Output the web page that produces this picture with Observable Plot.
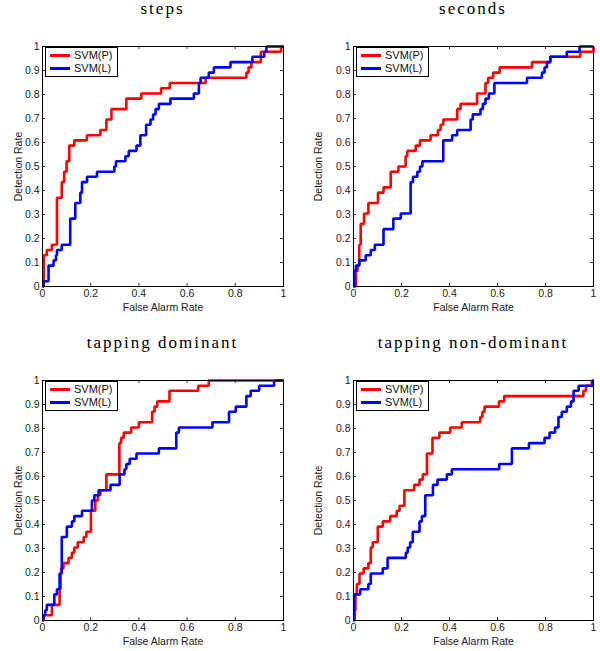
<!DOCTYPE html>
<html>
<head>
<meta charset="utf-8">
<script src="https://cdn.jsdelivr.net/npm/d3@7"></script>
<script src="https://cdn.jsdelivr.net/npm/@observablehq/plot@0.6"></script>
<style>
  html, body { margin: 0; padding: 0; background: #fff; }
  #root { position: relative; width: 600px; height: 651px; overflow: hidden; }
  .panel { position: absolute; }
  .title { position: absolute; width: 300px; text-align: center; font-family: "Liberation Serif", "DejaVu Serif", serif; font-size: 17px; letter-spacing: 2px; color: #000; }
  .legend { position: absolute; border: 1px solid #000; background: #fff; font-family: "Liberation Sans", Arial, sans-serif; font-size: 11px; padding: 1px 4px 1px 4px; line-height: 13px; color: #111; }
  .legend .row { display: flex; align-items: center; white-space: nowrap; }
  .legend .sw { display: inline-block; width: 20px; height: 3px; margin-right: 4px; }
</style>
</head>
<body>
<div id="root"></div>
<script>
// ---- Data ----
const panelTitles = ["steps", "seconds", "tapping dominant", "tapping non-dominant"];
const seriesNames = ["SVM(P)", "SVM(L)"];
const seriesColors = ["#ff0000", "#0000ff"];
const xTicks = [0, 0.2, 0.4, 0.6, 0.8, 1];
const xTickLabels = ["0", "0.2", "0.4", "0.6", "0.8", "1"];
const yTicks = [0, 0.1, 0.2, 0.3, 0.4, 0.5, 0.6, 0.7, 0.8, 0.9, 1];
const yTickLabels = ["0", "0.1", "0.2", "0.3", "0.4", "0.5", "0.6", "0.7", "0.8", "0.9", "1"];
const xLabel = "False Alarm Rate";
const yLabel = "Detection Rate";

// [false alarm rate, detection rate] after each jump
const stepsP = [[0,0],[0.005,0.13],[0.018,0.152],[0.039,0.174],[0.06,0.37],[0.08,0.435],[0.09,0.478],[0.1,0.522],[0.111,0.587],[0.132,0.609],[0.184,0.63],[0.24,0.652],[0.265,0.696],[0.286,0.739],[0.348,0.783],[0.41,0.804],[0.492,0.826],[0.528,0.848],[0.677,0.87],[0.846,0.891],[0.855,0.913],[0.867,0.935],[0.906,0.978],[0.99,1],[1,1]];
const stepsL = [[0,0],[0.005,0.022],[0.025,0.087],[0.046,0.109],[0.056,0.13],[0.06,0.152],[0.08,0.174],[0.115,0.283],[0.136,0.348],[0.157,0.391],[0.164,0.435],[0.185,0.457],[0.226,0.478],[0.298,0.5],[0.305,0.522],[0.344,0.543],[0.358,0.565],[0.39,0.587],[0.406,0.63],[0.43,0.674],[0.448,0.696],[0.459,0.717],[0.469,0.739],[0.483,0.761],[0.531,0.783],[0.628,0.804],[0.649,0.848],[0.656,0.87],[0.69,0.891],[0.711,0.913],[0.78,0.935],[0.871,0.957],[0.92,0.978],[0.929,1],[1,1]];
const secondsP = [[0,0],[0.01,0.065],[0.017,0.087],[0.024,0.174],[0.03,0.261],[0.044,0.304],[0.062,0.348],[0.102,0.391],[0.125,0.413],[0.155,0.478],[0.187,0.5],[0.217,0.543],[0.224,0.565],[0.259,0.587],[0.277,0.609],[0.321,0.63],[0.352,0.652],[0.363,0.674],[0.374,0.696],[0.432,0.739],[0.446,0.761],[0.515,0.804],[0.55,0.848],[0.561,0.87],[0.582,0.891],[0.609,0.913],[0.744,0.935],[0.82,0.957],[0.945,0.978],[1,1]];
const secondsL = [[0,0],[0.003,0.065],[0.01,0.087],[0.024,0.109],[0.051,0.13],[0.072,0.152],[0.089,0.174],[0.125,0.239],[0.166,0.283],[0.197,0.304],[0.238,0.435],[0.248,0.457],[0.266,0.478],[0.277,0.5],[0.287,0.522],[0.374,0.609],[0.411,0.63],[0.432,0.652],[0.488,0.696],[0.497,0.717],[0.529,0.739],[0.539,0.761],[0.55,0.783],[0.564,0.804],[0.587,0.848],[0.723,0.87],[0.785,0.891],[0.796,0.913],[0.806,0.935],[0.82,0.957],[0.889,0.978],[0.942,1],[1,1]];
const tapDomP = [[0,0],[0.004,0.022],[0.039,0.065],[0.071,0.13],[0.075,0.196],[0.078,0.217],[0.087,0.239],[0.108,0.261],[0.122,0.283],[0.132,0.304],[0.146,0.326],[0.171,0.348],[0.182,0.37],[0.201,0.457],[0.219,0.5],[0.23,0.522],[0.24,0.543],[0.265,0.609],[0.319,0.739],[0.326,0.761],[0.337,0.783],[0.368,0.804],[0.4,0.826],[0.455,0.87],[0.465,0.891],[0.476,0.913],[0.527,0.957],[0.646,0.978],[0.69,1],[1,1]];
const tapDomL = [[0,0],[0.004,0.022],[0.011,0.043],[0.018,0.065],[0.049,0.109],[0.06,0.13],[0.071,0.196],[0.08,0.348],[0.101,0.391],[0.122,0.413],[0.132,0.435],[0.164,0.457],[0.205,0.5],[0.215,0.522],[0.233,0.543],[0.282,0.565],[0.32,0.609],[0.34,0.63],[0.348,0.652],[0.362,0.674],[0.39,0.696],[0.483,0.717],[0.555,0.783],[0.566,0.804],[0.705,0.826],[0.774,0.87],[0.802,0.891],[0.846,0.935],[0.864,0.957],[0.899,0.978],[0.961,1],[1,1]];
const tapNonP = [[0,0],[0.004,0.043],[0.008,0.109],[0.014,0.152],[0.025,0.196],[0.042,0.217],[0.062,0.239],[0.072,0.304],[0.08,0.326],[0.101,0.391],[0.122,0.413],[0.153,0.435],[0.18,0.457],[0.192,0.478],[0.212,0.543],[0.253,0.565],[0.275,0.587],[0.289,0.609],[0.306,0.696],[0.329,0.761],[0.358,0.783],[0.403,0.804],[0.451,0.826],[0.528,0.848],[0.537,0.87],[0.546,0.891],[0.606,0.913],[0.628,0.935],[0.958,0.957],[0.969,0.978],[0.993,1],[1,1]];
const tapNonL = [[0,0],[0.003,0.109],[0.028,0.13],[0.062,0.152],[0.072,0.196],[0.122,0.217],[0.142,0.261],[0.218,0.283],[0.226,0.304],[0.236,0.326],[0.247,0.37],[0.275,0.413],[0.285,0.435],[0.299,0.522],[0.331,0.565],[0.35,0.587],[0.389,0.609],[0.41,0.63],[0.607,0.652],[0.66,0.717],[0.731,0.739],[0.796,0.761],[0.817,0.783],[0.84,0.804],[0.854,0.848],[0.868,0.87],[0.889,0.891],[0.906,0.913],[0.917,0.957],[0.938,0.978],[0.997,1],[1,1]];

const panelSeries = [[stepsP, stepsL], [secondsP, secondsL], [tapDomP, tapDomL], [tapNonP, tapNonL]];

// ---- Layout ----
const layouts = [
  {left: 0,   top: 30,  height: 290, mt: 16, mb: 34, ml: 42, mr: 17, titleTop: -1},
  {left: 300, top: 30,  height: 290, mt: 16, mb: 34, ml: 53, mr: 7,  titleTop: -1},
  {left: 0,   top: 364, height: 287, mt: 16, mb: 31, ml: 42, mr: 17, titleTop: 333},
  {left: 300, top: 364, height: 287, mt: 16, mb: 31, ml: 53, mr: 7,  titleTop: 333}
];

const root = document.getElementById("root");

panelSeries.forEach((series, i) => {
  const L = layouts[i];
  const W = 300;
  const innerH = L.height - L.mt - L.mb;
  const innerW = W - L.ml - L.mr;
  const rows = [];
  series.forEach((pts, s) => pts.forEach(([x, y]) => rows.push({x, y, s: seriesNames[s]})));

  const tickLen = 3;
  const plot = Plot.plot({
    width: W,
    height: L.height,
    marginTop: L.mt,
    marginBottom: L.mb,
    marginLeft: L.ml,
    marginRight: L.mr,
    style: {fontFamily: "'Liberation Sans', Arial, sans-serif", fontSize: "10.5px", color: "#222", background: "transparent", overflow: "visible"},
    x: {domain: [0, 1]},
    y: {domain: [0, 1]},
    color: {domain: seriesNames, range: seriesColors},
    marks: [
      // inward ticks on all four sides (MATLAB box style)
      Plot.ruleX(xTicks, {x: d => d, y1: 1, y2: 0, insetTop: innerH - tickLen, stroke: "#000", strokeWidth: 0.8}),
      Plot.ruleX(xTicks, {x: d => d, y1: 1, y2: 0, insetBottom: innerH - tickLen, stroke: "#000", strokeWidth: 0.8}),
      Plot.ruleY(yTicks, {y: d => d, x1: 0, x2: 1, insetRight: innerW - tickLen, stroke: "#000", strokeWidth: 0.8}),
      Plot.ruleY(yTicks, {y: d => d, x1: 0, x2: 1, insetLeft: innerW - tickLen, stroke: "#000", strokeWidth: 0.8}),
      Plot.line(rows, {x: "x", y: "y", z: "s", stroke: "s", curve: "step-after", strokeWidth: 2.6, strokeLinejoin: "miter", strokeLinecap: "butt"}),
      Plot.frame({stroke: "#000", strokeWidth: 1}),
      Plot.axisX({ticks: xTicks, tickSize: 0, tickPadding: 3, tickFormat: d => xTickLabels[xTicks.indexOf(d)], label: xLabel, labelAnchor: "center", labelArrow: "none", labelOffset: 24, fill: "#222"}),
      Plot.axisY({ticks: yTicks, tickSize: 0, tickPadding: 3, tickFormat: d => yTickLabels[yTicks.indexOf(d)], label: yLabel, labelAnchor: "center", labelArrow: "none", labelOffset: L.ml - 14, fill: "#222"})
    ]
  });
  plot.classList.add("panel");
  plot.style.left = L.left + "px";
  plot.style.top = L.top + "px";
  root.appendChild(plot);

  const t = document.createElement("div");
  t.className = "title";
  t.textContent = panelTitles[i];
  t.style.left = (L.left + L.ml + innerW / 2 - 150) + "px";
  t.style.top = L.titleTop + "px";
  root.appendChild(t);

  const lg = document.createElement("div");
  lg.className = "legend";
  lg.style.left = (L.left + L.ml + 3) + "px";
  lg.style.top = (L.top + L.mt + 1) + "px";
  seriesNames.forEach((n, s) => {
    const r = document.createElement("div");
    r.className = "row";
    const sw = document.createElement("span");
    sw.className = "sw";
    sw.style.background = seriesColors[s];
    const tx = document.createElement("span");
    tx.textContent = n;
    r.appendChild(sw);
    r.appendChild(tx);
    lg.appendChild(r);
  });
  root.appendChild(lg);
});
</script>
</body>
</html>
